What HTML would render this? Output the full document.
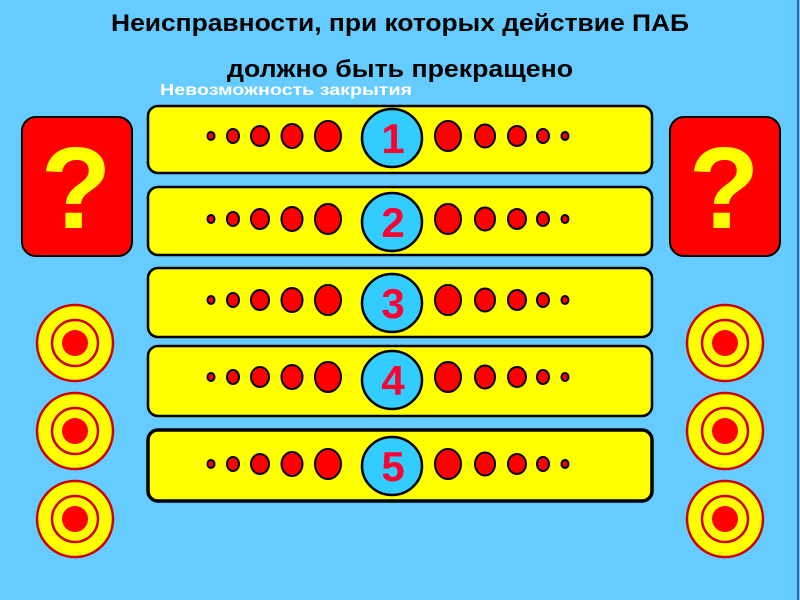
<!DOCTYPE html>
<html><head><meta charset="utf-8"><style>
html,body{margin:0;padding:0;background:#66ccff;}
svg{display:block;}
text{font-family:"Liberation Sans",sans-serif;font-weight:bold;}
</style></head><body>
<svg width="800" height="600" viewBox="0 0 800 600" xmlns="http://www.w3.org/2000/svg">
<rect x="0" y="0" width="800" height="600" fill="#66ccff"/>
<line x1="798" y1="0" x2="798" y2="600" stroke="#336699" stroke-width="2"/>
<text x="400" y="31" text-anchor="middle" font-size="24" fill="#000" textLength="578" lengthAdjust="spacingAndGlyphs">Неисправности, при которых действие ПАБ</text>
<text x="400" y="77" text-anchor="middle" font-size="24" fill="#000" textLength="346" lengthAdjust="spacingAndGlyphs">должно быть прекращено</text>
<text x="160" y="95" font-size="16" fill="#fff" textLength="252" lengthAdjust="spacingAndGlyphs">Невозможность закрытия</text>

<rect x="22" y="117" width="110" height="139" rx="14" fill="#ff0000" stroke="#000" stroke-width="2"/>
<text x="76" y="228" text-anchor="middle" font-size="116" fill="#ffff00">?</text>
<rect x="670" y="117" width="110" height="139" rx="14" fill="#ff0000" stroke="#000" stroke-width="2"/>
<text x="724" y="228" text-anchor="middle" font-size="116" fill="#ffff00">?</text>

<g stroke="#cc0000" stroke-width="2.5" fill="#ffff00">
<g><circle cx="75" cy="343" r="38"/><circle cx="75" cy="343" r="23"/><circle cx="75" cy="343" r="13" fill="#ff0000" stroke="none"/></g>
<g><circle cx="75" cy="431" r="38"/><circle cx="75" cy="431" r="23"/><circle cx="75" cy="431" r="13" fill="#ff0000" stroke="none"/></g>
<g><circle cx="75" cy="519" r="38"/><circle cx="75" cy="519" r="23"/><circle cx="75" cy="519" r="13" fill="#ff0000" stroke="none"/></g>
<g><circle cx="725" cy="343" r="38"/><circle cx="725" cy="343" r="23"/><circle cx="725" cy="343" r="13" fill="#ff0000" stroke="none"/></g>
<g><circle cx="725" cy="431" r="38"/><circle cx="725" cy="431" r="23"/><circle cx="725" cy="431" r="13" fill="#ff0000" stroke="none"/></g>
<g><circle cx="725" cy="519" r="38"/><circle cx="725" cy="519" r="23"/><circle cx="725" cy="519" r="13" fill="#ff0000" stroke="none"/></g>
</g>

<g stroke="#000" stroke-width="2.5">
<rect x="148" y="106" width="504" height="67" rx="10" fill="#ffff00"/>
<rect x="148" y="187" width="504" height="68" rx="10" fill="#ffff00"/>
<rect x="148" y="268" width="504" height="69" rx="10" fill="#ffff00"/>
<rect x="148" y="346" width="504" height="70" rx="10" fill="#ffff00"/>
<rect x="148" y="430" width="504" height="71" rx="10" fill="#ffff00" stroke-width="3.5"/>
</g>

<g stroke="#000" stroke-width="2" fill="#ff0000">
<g transform="translate(0,136)">
<ellipse cx="211" cy="0" rx="3.5" ry="4"/><ellipse cx="233" cy="0" rx="6" ry="7"/><ellipse cx="260" cy="0" rx="9" ry="10"/><ellipse cx="292" cy="0" rx="10.5" ry="12"/><ellipse cx="328" cy="0" rx="13" ry="15"/>
<ellipse cx="448" cy="0" rx="13" ry="15"/><ellipse cx="485" cy="0" rx="10" ry="11.5"/><ellipse cx="517" cy="0" rx="9" ry="10"/><ellipse cx="543" cy="0" rx="6" ry="7"/><ellipse cx="565" cy="0" rx="3.5" ry="4"/>
</g>
<g transform="translate(0,219)">
<ellipse cx="211" cy="0" rx="3.5" ry="4"/><ellipse cx="233" cy="0" rx="6" ry="7"/><ellipse cx="260" cy="0" rx="9" ry="10"/><ellipse cx="292" cy="0" rx="10.5" ry="12"/><ellipse cx="328" cy="0" rx="13" ry="15"/>
<ellipse cx="448" cy="0" rx="13" ry="15"/><ellipse cx="485" cy="0" rx="10" ry="11.5"/><ellipse cx="517" cy="0" rx="9" ry="10"/><ellipse cx="543" cy="0" rx="6" ry="7"/><ellipse cx="565" cy="0" rx="3.5" ry="4"/>
</g>
<g transform="translate(0,300)">
<ellipse cx="211" cy="0" rx="3.5" ry="4"/><ellipse cx="233" cy="0" rx="6" ry="7"/><ellipse cx="260" cy="0" rx="9" ry="10"/><ellipse cx="292" cy="0" rx="10.5" ry="12"/><ellipse cx="328" cy="0" rx="13" ry="15"/>
<ellipse cx="448" cy="0" rx="13" ry="15"/><ellipse cx="485" cy="0" rx="10" ry="11.5"/><ellipse cx="517" cy="0" rx="9" ry="10"/><ellipse cx="543" cy="0" rx="6" ry="7"/><ellipse cx="565" cy="0" rx="3.5" ry="4"/>
</g>
<g transform="translate(0,377)">
<ellipse cx="211" cy="0" rx="3.5" ry="4"/><ellipse cx="233" cy="0" rx="6" ry="7"/><ellipse cx="260" cy="0" rx="9" ry="10"/><ellipse cx="292" cy="0" rx="10.5" ry="12"/><ellipse cx="328" cy="0" rx="13" ry="15"/>
<ellipse cx="448" cy="0" rx="13" ry="15"/><ellipse cx="485" cy="0" rx="10" ry="11.5"/><ellipse cx="517" cy="0" rx="9" ry="10"/><ellipse cx="543" cy="0" rx="6" ry="7"/><ellipse cx="565" cy="0" rx="3.5" ry="4"/>
</g>
<g transform="translate(0,464)">
<ellipse cx="211" cy="0" rx="3.5" ry="4"/><ellipse cx="233" cy="0" rx="6" ry="7"/><ellipse cx="260" cy="0" rx="9" ry="10"/><ellipse cx="292" cy="0" rx="10.5" ry="12"/><ellipse cx="328" cy="0" rx="13" ry="15"/>
<ellipse cx="448" cy="0" rx="13" ry="15"/><ellipse cx="485" cy="0" rx="10" ry="11.5"/><ellipse cx="517" cy="0" rx="9" ry="10"/><ellipse cx="543" cy="0" rx="6" ry="7"/><ellipse cx="565" cy="0" rx="3.5" ry="4"/>
</g>
</g>

<g stroke="#000" stroke-width="2.5" fill="#33ccff">
<ellipse cx="392" cy="138" rx="30" ry="29"/>
<ellipse cx="392" cy="222" rx="30" ry="29"/>
<ellipse cx="392" cy="303" rx="30" ry="29"/>
<ellipse cx="392" cy="380" rx="30" ry="29"/>
<ellipse cx="392" cy="466" rx="30" ry="29"/>
</g>
<g fill="#ff0033" font-size="42" text-anchor="middle">
<text x="393" y="153">1</text>
<text x="393" y="237">2</text>
<text x="393" y="318">3</text>
<text x="393" y="395">4</text>
<text x="393" y="481">5</text>
</g>
</svg>
</body></html>
